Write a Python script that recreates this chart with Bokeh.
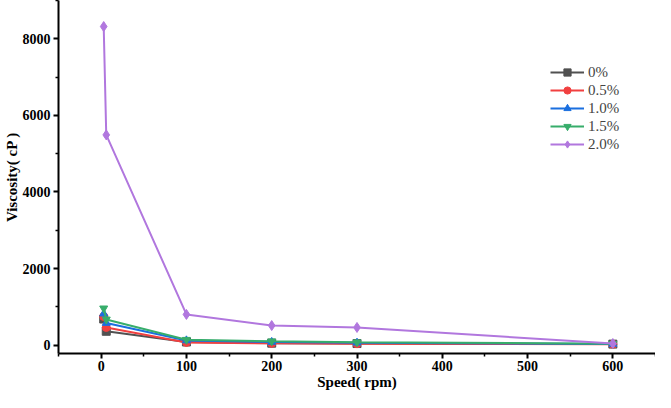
from bokeh.plotting import figure
from bokeh.embed import file_html
from bokeh.resources import INLINE
from bokeh.models import Legend, LegendItem, FixedTicker, Range1d

speed = [3, 6, 100, 200, 300, 600]
v_0 = [680, 360, 80, 50, 40, 25]
v_05 = [745, 460, 70, 45, 35, 20]
v_10 = [820, 575, 120, 80, 60, 30]
v_15 = [960, 670, 140, 100, 75, 35]
v_20 = [8320, 5490, 800, 510, 460, 40]
labels = ["0%", "0.5%", "1.0%", "1.5%", "2.0%"]
colors = ["#515151", "#F14040", "#1A6FDF", "#37AD6B", "#B177DE"]
markers = ["square", "circle", "triangle", "inverted_triangle", "diamond"]
series = [v_0, v_05, v_10, v_15, v_20]
x_ticks = [0, 100, 200, 300, 400, 500, 600]
y_ticks = [0, 2000, 4000, 6000, 8000]

p = figure(width=655, height=392, output_backend="svg", toolbar_location=None,
           x_range=Range1d(-50, 650), y_range=Range1d(-220, 9000),
           min_border_left=52, min_border_right=0, min_border_top=0, min_border_bottom=36)
p.outline_line_color = None
p.grid.visible = False

items = []
for ys, lab, c, m in zip(series, labels, colors, markers):
    r1 = p.line(speed, ys, line_color=c, line_width=2)
    r2 = p.scatter(speed, ys, marker=m, size=8 if m != "diamond" else 10, fill_color=c, line_color=c)
    items.append(LegendItem(label=lab, renderers=[r1, r2]))

legend = Legend(items=items, location=(492, 200), border_line_color=None,
                background_fill_alpha=0, label_text_font="Liberation Serif",
                label_text_font_size="15px", spacing=0, padding=0,
                glyph_width=34, label_standoff=4, label_height=18, glyph_height=18)
p.add_layout(legend, "center")

for ax in (p.xaxis[0], p.yaxis[0]):
    ax.axis_line_width = 2
    ax.axis_line_color = "black"
    ax.major_tick_line_width = 2
    ax.minor_tick_line_width = 1.5
    ax.major_tick_out = 5
    ax.major_tick_in = 0
    ax.minor_tick_out = 3
    ax.minor_tick_in = 0
    ax.major_label_text_font = "Liberation Serif"
    ax.major_label_text_font_style = "bold"
    ax.major_label_text_font_size = "14px"
    ax.major_label_text_color = "black"
    ax.axis_label_text_font = "Liberation Serif"
    ax.axis_label_text_font_style = "bold"
    ax.axis_label_text_font_size = "15px"
    ax.axis_label_text_color = "black"

p.xaxis[0].ticker = FixedTicker(ticks=x_ticks, minor_ticks=[-50, 50, 150, 250, 350, 450, 550, 650])
p.yaxis[0].ticker = FixedTicker(ticks=y_ticks, minor_ticks=[1000, 3000, 5000, 7000, 9000])
p.xaxis[0].axis_label = "Speed( rpm)"
p.yaxis[0].axis_label = "Viscosity( cP )"
p.xaxis[0].major_label_standoff = 2
p.xaxis[0].axis_label_standoff = 0
p.yaxis[0].major_label_standoff = 3
p.yaxis[0].axis_label_standoff = 0

open("out.html", "w").write(file_html(p, INLINE))
